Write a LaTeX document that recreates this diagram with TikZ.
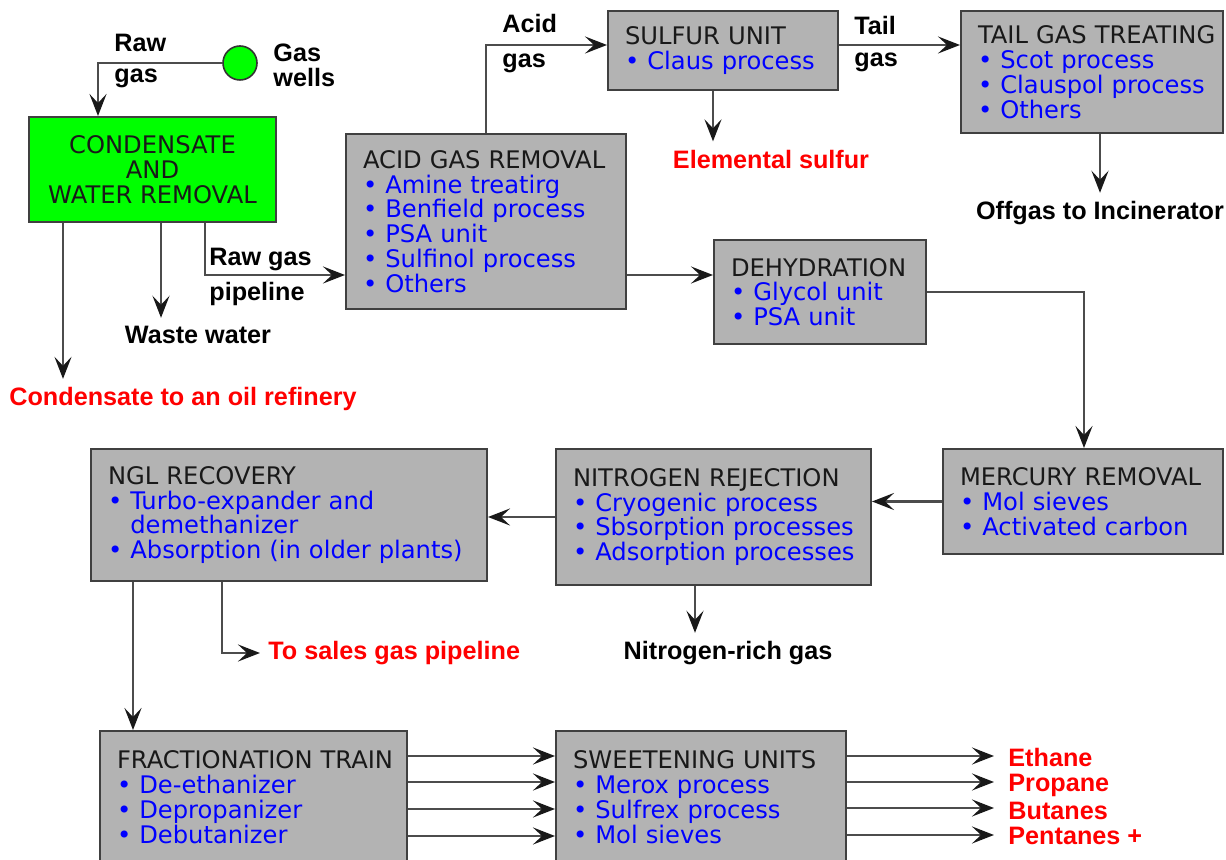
\documentclass[tikz,border=0pt]{standalone}
\usepackage{fontspec}
\setmainfont{DejaVu Sans}
\newfontfamily\lblfont{Liberation Sans}
\usetikzlibrary{arrows.meta}
\usetikzlibrary{calc}

\definecolor{wellgreen}{HTML}{00FF00}
\definecolor{itemblue}{HTML}{0000FF}
\definecolor{outred}{HTML}{FF0000}
\definecolor{unitgray}{HTML}{B3B3B3}

\newcommand{\itm}[1]{\mbox{\textcolor{itemblue}{\textbullet\ #1}}}

\tikzset{
	unit/.style={draw=black!75,fill=unitgray,line width=1pt,anchor=north west,align=left,
		inner xsep=8.5pt,inner ysep=0pt,text=black!90,font=\fontsize{12.1}{12.4}\selectfont},
	flow/.style={draw=black!70,line width=1.4pt,-{Stealth[length=11pt,width=8.5pt,inset=4.5pt,color=black!90]}},
	tag/.style={font=\lblfont\bfseries\fontsize{12.6}{13.7}\selectfont,inner sep=1pt,align=left},
	outtag/.style={tag,text=outred},
}

\begin{document}
\begin{tikzpicture}[x=0.5pt,y=-0.5pt]
	\useasboundingbox (0,0) rectangle (1226,860);
	\clip (0,0) rectangle (1226,860);

	%wells
	\node[circle,draw=black!80,fill=wellgreen,minimum size=17pt,inner sep=0pt,line width=0.8pt] (wells) at (240,63) {};
	\node[tag,anchor=west] (wellstag) at (271,65) {Gas\\[-1.2pt]wells};
	\node[tag,anchor=west] (rawtag) at (112,61) {Raw\\[1.8pt]gas};

	%units
	\node[unit,fill=wellgreen,align=center,minimum width=123.5pt,minimum height=52.5pt] (cwr) at (28,116) {CONDENSATE\\AND\\WATER REMOVAL};
	\node[unit,text width=123pt,minimum height=87.5pt] (agr) at (345,133)
		{\mbox{ACID GAS REMOVAL}\\\itm{Amine treatirg}\\\itm{Benfield process}\\\itm{PSA unit}\\\itm{Sulfinol process}\\\itm{Others}};
	\node[unit,text width=98pt,minimum height=39.5pt] (sulfur) at (607,10)
		{\mbox{SULFUR UNIT}\\\itm{Claus process}};
	\node[unit,text width=114pt,minimum height=61pt] (tail) at (960,10)
		{\mbox{TAIL GAS TREATING}\\\itm{Scot process}\\\itm{Clauspol process}\\\itm{Others}};
	\node[unit,text width=89pt,minimum height=52pt] (dehyd) at (713,239)
		{\mbox{DEHYDRATION}\\\itm{Glycol unit}\\\itm{PSA unit}};
	\node[unit,text width=123pt,minimum height=52.5pt] (mercury) at (942,448)
		{\mbox{MERCURY REMOVAL}\\\itm{Mol sieves}\\\itm{Activated carbon}};
	\node[unit,text width=140.5pt,minimum height=68pt] (nitro) at (555,448)
		{\mbox{NITROGEN REJECTION}\\\itm{Cryogenic process}\\\itm{Sbsorption processes}\\\itm{Adsorption processes}};
	\node[unit,text width=181pt,minimum height=66pt] (ngl) at (90,448)
		{\mbox{NGL RECOVERY}\\\itm{Turbo-expander and}\\\mbox{\textcolor{itemblue}{\phantom{\textbullet\ }demethanizer}}\\\itm{Absorption (in older plants)}};
	\node[unit,text width=136.5pt,minimum height=66pt] (frac) at (99,730)
		{\mbox{FRACTIONATION TRAIN}\\\itm{De-ethanizer}\\\itm{Depropanizer}\\\itm{Debutanizer}};
	\node[unit,text width=128pt,minimum height=66pt] (sweet) at (555,730)
		{\mbox{SWEETENING UNITS}\\\itm{Merox process}\\\itm{Sulfrex process}\\\itm{Mol sieves}};

	%stream labels
	\node[tag,anchor=west] (pipetag) at (207,277) {Raw gas\\[3.8pt]pipeline};
	\node[tag,anchor=west] (acidtag) at (500,44)  {Acid\\[3.8pt]gas};
	\node[tag,anchor=west] (tailtag) at (852,44)  {Tail\\[2.3pt]gas};
	\node[tag]    (waste)   at (198,335)  {Waste water};
	\node[outtag] (condout) at (183,399)  {Condensate to an oil refinery};
	\node[outtag] (sulfout) at (771,159)  {Elemental sulfur};
	\node[tag]    (offgas)  at (1100,213) {Offgas to Incinerator};
	\node[tag]    (n2gas)   at (728,653)  {Nitrogen-rich gas};
	\node[outtag,anchor=west] (sales)    at (266,653)  {To sales gas pipeline};
	\node[outtag,anchor=west] (ethane)   at (1006,757) {Ethane};
	\node[outtag,anchor=west] (propane)  at (1006,785) {Propane};
	\node[outtag,anchor=west] (butanes)  at (1006,811) {Butanes};
	\node[outtag,anchor=west] (pentanes) at (1006,836) {Pentanes +};

	%taps
	\coordinate (cwrI) at ($(cwr.north west)+(70,0)$);		%raw gas in
	\coordinate (cwrC) at ($(cwr.south west)+(35,0)$);		%condensate
	\coordinate (cwrW) at ($(cwr.south west)+(133,0)$);		%waste water
	\coordinate (cwrP) at ($(cwr.south west)+(177,0)$);		%pipeline
	\coordinate (agrP) at ($(agr.north west)+(0,142)$);
	\coordinate (agrA) at ($(agr.north west)+(141,0)$);		%acid gas
	\coordinate (agrD) at ($(agr.north east)+(0,142)$);
	\coordinate (sulW) at ($(sulfur.north west)+(0,35)$);
	\coordinate (sulT) at ($(sulfur.north east)+(0,35)$);
	\coordinate (sulE) at ($(sulfur.south west)+(106,0)$);
	\coordinate (tailO) at ($(tail.south west)+(140,0)$);
	\coordinate (merT) at ($(mercury.north west)+(142,0)$);
	\coordinate (nitN) at ($(nitro.south west)+(140,0)$);
	\coordinate (nglS) at ($(ngl.south west)+(132,0)$);
	\coordinate (nglF) at ($(ngl.south west)+(43,0)$);
	\coordinate (sw1) at ($(sweet.north east)+(0,26)$);		%products
	\coordinate (sw2) at ($(sweet.north east)+(0,52)$);
	\coordinate (sw3) at ($(sweet.north east)+(0,78)$);
	\coordinate (sw4) at ($(sweet.north east)+(0,105)$);

	%flows
	\draw[flow] (wells.west) -| (cwrI);
	\draw[flow,shorten >=3pt] (cwrC) -- (cwrC |- condout.north);
	\draw[flow,shorten >=3pt] (cwrW) -- (cwrW |- waste.north);
	\draw[flow] (cwrP) |- (agrP);
	\draw[flow] (agrA) |- (sulW);
	\draw[flow,shorten >=3pt] (sulE) -- (sulE |- sulfout.north);
	\draw[flow] (sulT) -- (sulT -| tail.west);
	\draw[flow,shorten >=3pt] (tailO) -- (tailO |- offgas.north);
	\draw[flow] (agrD) -- (agrD -| dehyd.west);
	\draw[flow] (dehyd.east) -| (merT);
	\draw[flow] (mercury.west) -- (mercury.west -| nitro.east);
	\draw[flow] (nitro.west) -- (nitro.west -| ngl.east);
	\draw[flow,shorten >=3pt] (nitN) -- (nitN |- n2gas.north);
	\draw[flow,shorten >=3pt] (nglS) |- (sales.west);
	\draw[flow] (nglF) -- (nglF |- frac.north);

	%fractions
	\draw[flow] ($(frac.north east)+(0,26)$) -- ($(sweet.north west)+(0,26)$);
	\draw[flow] ($(frac.north east)+(0,52)$) -- ($(sweet.north west)+(0,52)$);
	\draw[flow] ($(frac.north east)+(0,79)$) -- ($(sweet.north west)+(0,79)$);
	\draw[flow] ($(frac.north east)+(0,106)$) -- ($(sweet.north west)+(0,106)$);
	\draw[flow,shorten >=6pt] (sw1) -- (sw1 -| ethane.west);
	\draw[flow,shorten >=6pt] (sw2) -- (sw2 -| propane.west);
	\draw[flow,shorten >=6pt] (sw3) -- (sw3 -| butanes.west);
	\draw[flow,shorten >=6pt] (sw4) -- (sw4 -| pentanes.west);
\end{tikzpicture}
\end{document}
